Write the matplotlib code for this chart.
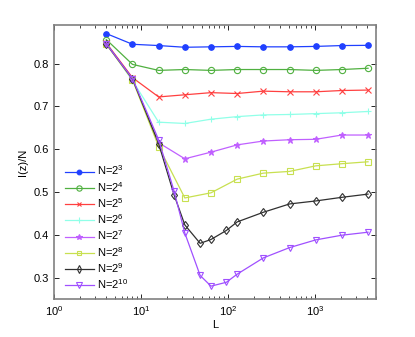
import matplotlib
matplotlib.use("Agg")
import matplotlib.pyplot as plt

plt.rcParams['font.family'] = ['Liberation Sans', 'DejaVu Sans']
plt.rcParams['mathtext.fontset'] = 'custom'
plt.rcParams['mathtext.rm'] = 'Liberation Sans'
plt.rcParams['mathtext.it'] = 'Liberation Sans'

L_short = [4, 8, 16, 32, 64, 128, 256, 512, 1024, 2048, 4096]
L_long = [4, 8, 16, 24, 32, 48, 64, 96, 128, 256, 512, 1024, 2048, 4096]

y_n3 = [0.870, 0.845, 0.842, 0.838, 0.839, 0.840, 0.839, 0.839, 0.840, 0.842, 0.8425]
y_n4 = [0.856, 0.798, 0.784, 0.786, 0.784, 0.786, 0.786, 0.786, 0.784, 0.786, 0.789]
y_n5 = [0.848, 0.767, 0.722, 0.727, 0.732, 0.730, 0.7355, 0.734, 0.734, 0.737, 0.738]
y_n6 = [0.847, 0.760, 0.663, 0.660, 0.670, 0.676, 0.680, 0.681, 0.683, 0.685, 0.688]
y_n7 = [0.846, 0.763, 0.615, 0.5775, 0.593, 0.610, 0.619, 0.622, 0.623, 0.633, 0.633]
y_n8 = [0.845, 0.762, 0.606, 0.486, 0.498, 0.530, 0.544, 0.548, 0.561, 0.566, 0.5705]
y_n9 = [0.846, 0.764, 0.613, 0.494, 0.423, 0.380, 0.389, 0.410, 0.430, 0.4526, 0.472, 0.479, 0.4875, 0.495]
y_n10 = [0.846, 0.765, 0.622, 0.503, 0.404, 0.305, 0.280, 0.289, 0.308, 0.346, 0.370, 0.388, 0.399, 0.406]

labels = ['N=2$^{3}$', 'N=2$^{4}$', 'N=2$^{5}$', 'N=2$^{6}$',
          'N=2$^{7}$', 'N=2$^{8}$', 'N=2$^{9}$', 'N=2$^{10}$']

series = [
    (L_short, y_n3, '#2040ff', 'o', True, 4),
    (L_short, y_n4, '#50b040', 'o', False, 4.5),
    (L_short, y_n5, '#ff4040', 'x', False, 4),
    (L_short, y_n6, '#90ffe8', '+', False, 5),
    (L_short, y_n7, '#c060ff', '*', True, 5),
    (L_short, y_n8, '#c8e050', 's', False, 4),
    (L_long, y_n9, '#303030', 'd', False, 4.5),
    (L_long, y_n10, '#a050ff', 'v', False, 5),
]

fig = plt.figure(figsize=(4.15, 3.37), dpi=100)
ax = fig.add_axes([0.130, 0.1128, 0.775, 0.813])

for (x, y, c, m, filled, ms), lab in zip(series, labels):
    ax.plot(x, y, color=c, marker=m, markersize=ms,
            markerfacecolor=c if filled else 'none', markeredgecolor=c,
            markeredgewidth=0.8, linewidth=0.9, label=lab)

ax.set_xscale('log')
ax.set_xlim(1, 5000)
ax.set_ylim(0.25, 0.89)
ax.set_yticks([0.3, 0.4, 0.5, 0.6, 0.7, 0.8])
ax.set_yticklabels(['0.3', '0.4', '0.5', '0.6', '0.7', '0.8'])
ax.tick_params(which='both', direction='in', top=True, right=True, labelsize=8)
ax.tick_params(which='major', length=3.5, width=0.6)
ax.tick_params(which='minor', length=2, width=0.5)
for s in ax.spines.values():
    s.set_color('#808080')
    s.set_linewidth(1.2)

ax.set_xlabel('L', fontsize=8, labelpad=2)
ax.set_ylabel('I(z)/N', fontsize=8, labelpad=4)

leg = ax.legend(loc='lower left', bbox_to_anchor=(0.01, 0.0), frameon=False,
                fontsize=8, handlelength=2.6, handletextpad=0.3,
                labelspacing=0.22, borderaxespad=0.3, markerscale=0.85)

fig.savefig('out.png', dpi=100)
